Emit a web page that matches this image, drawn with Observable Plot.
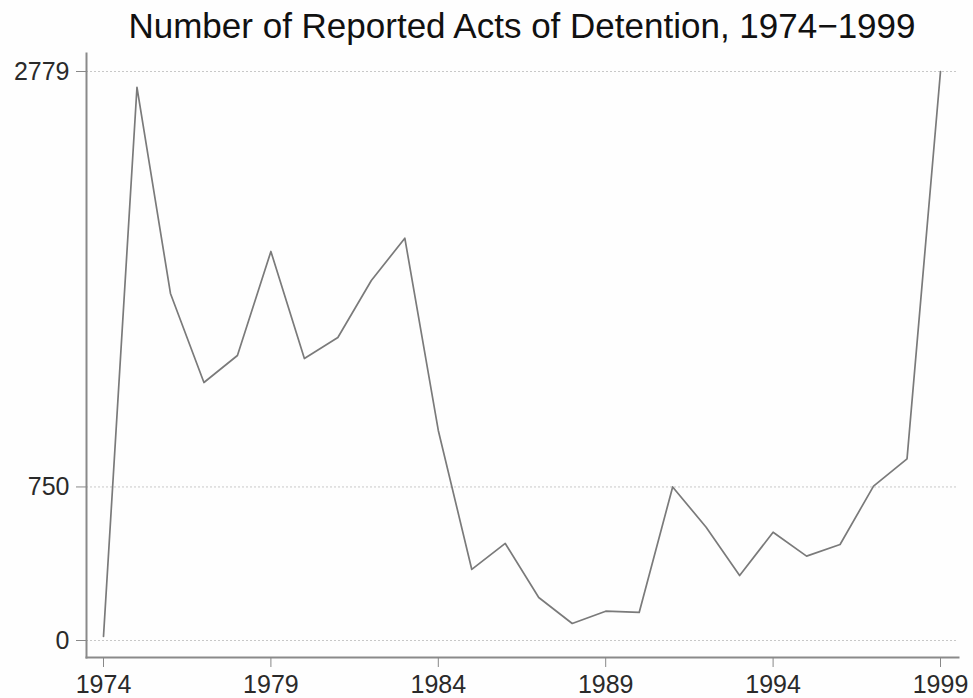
<!DOCTYPE html>
<html>
<head>
<meta charset="utf-8">
<script src="https://cdn.jsdelivr.net/npm/d3@7"></script>
<script src="https://cdn.jsdelivr.net/npm/@observablehq/plot@0.6"></script>
<style>
  html, body { margin: 0; padding: 0; background: #fff; }
  #wrap { width: 973px; height: 698px; background: #fefefe; overflow: hidden; }
  #title { height: 52px; box-sizing: border-box; padding-left: 86px; padding-right: 15px; text-align: center;
    font-family: "Liberation Sans", Arial, sans-serif; font-size: 35px; line-height: 40px; padding-top: 6px; color: #111; white-space: nowrap; }
  svg { display: block; }
</style>
</head>
<body>
<div id="wrap">
  <div id="title">Number of Reported Acts of Detention, 1974−1999</div>
  <div id="chart"></div>
</div>
<script>
const years = [1974,1975,1976,1977,1978,1979,1980,1981,1982,1983,1984,1985,1986,1987,1988,1989,1990,1991,1992,1993,1994,1995,1996,1997,1998,1999];
const detentions = [20,2702,1695,1260,1392,1900,1377,1480,1758,1965,1026,347,474,210,83,143,137,750,553,317,529,412,469,754,887,2779];
const xTicks = [1974,1979,1984,1989,1994,1999];
const yTicks = [0,750,2779];

const data = years.map((y, i) => ({year: y, value: detentions[i]}));

const chart = Plot.plot({
  width: 973,
  height: 646,
  marginLeft: 86,
  marginRight: 15,
  marginTop: 1,
  marginBottom: 41,
  style: {background: "transparent", fontFamily: "'Liberation Sans', Arial, sans-serif"},
  x: {domain: [1974, 1999], insetLeft: 17, insetRight: 18},
  y: {domain: [0, 2779], insetTop: 18, insetBottom: 17},
  marks: [
    Plot.gridY(yTicks, {stroke: "#c8c8c8", strokeOpacity: 1, strokeWidth: 1, strokeDasharray: "2,2"}),
    Plot.frame({anchor: "left", stroke: "#8a8a8a", strokeWidth: 2}),
    Plot.frame({anchor: "bottom", stroke: "#8a8a8a", strokeWidth: 2}),
    Plot.axisY(yTicks, {tickSize: 10, tickPadding: 7, fontSize: 25, stroke: "#888", color: "#2a2a2a", label: null, tickFormat: d => String(d)}),
    Plot.axisX(xTicks, {tickSize: 10, tickPadding: 8, fontSize: 25, stroke: "#888", color: "#2a2a2a", label: null, tickFormat: d => String(d)}),
    Plot.line(data, {x: "year", y: "value", stroke: "#7a7a7a", strokeWidth: 1.7})
  ]
});
document.getElementById("chart").appendChild(chart);
</script>
</body>
</html>
